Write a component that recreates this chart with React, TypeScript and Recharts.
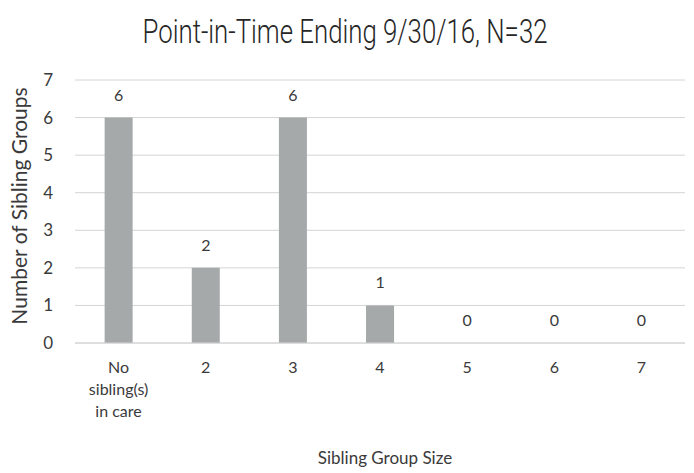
import { Bar, BarChart, CartesianGrid, LabelList, XAxis, YAxis } from 'recharts'

const categories = ['No sibling(s) in care', '2', '3', '4', '5', '6', '7']
const groupCounts = [6, 2, 6, 1, 0, 0, 0]
const yTicks = [0, 1, 2, 3, 4, 5, 6, 7]
const tickLines: Record<string, string[]> = { 'No sibling(s) in care': ['No', 'sibling(s)', 'in care'] }

const data = categories.map((name, i) => ({ name, value: groupCounts[i] }))

const FONT = 'Lato, "Open Sans", sans-serif'
const TEXT = '#3a3a3a'

function CategoryTick({ x, y, payload }: any) {
  const lines = tickLines[payload.value] ?? [payload.value]
  return (
    <text x={x} y={y} textAnchor="middle" fontFamily={FONT} fontSize={16} fill={TEXT}>
      {lines.map((line, i) => (
        <tspan key={i} x={x} dy={i === 0 ? 24 : 22}>
          {line}
        </tspan>
      ))}
    </text>
  )
}

export default function App() {
  return (
    <div style={{ width: 694, height: 473, background: '#fff', position: 'relative' }}>
      <style>{'body{margin:0}'}</style>
      <BarChart
        width={694}
        height={473}
        data={data}
        margin={{ top: 80, right: 9, bottom: 0, left: 40 }}
        barCategoryGap="34%"
      >
        <text
          x={345}
          y={43}
          textAnchor="middle"
          fontFamily='Roboto, "Liberation Sans", sans-serif'
          fontWeight={300}
          fontSize={33}
          fill="#262626"
          textLength={405}
          lengthAdjust="spacingAndGlyphs"
        >
          Point-in-Time Ending 9/30/16, N=32
        </text>
        <CartesianGrid vertical={false} stroke="#d4d4d4" />
        <XAxis
          dataKey="name"
          axisLine={{ stroke: '#d4d4d4' }}
          tickLine={false}
          tickMargin={0}
          height={130}
          interval={0}
          tick={<CategoryTick />}
        />
        <YAxis
          domain={[0, 7]}
          ticks={yTicks}
          width={35}
          axisLine={false}
          tickLine={false}
          tickMargin={16}
          tick={{ fontSize: 17, fill: TEXT, fontFamily: FONT }}
        />
        <text
          transform="translate(22 206) rotate(-90)"
          textAnchor="middle"
          dominantBaseline="middle"
          fontFamily={FONT}
          fontSize={21}
          fill={TEXT}
        >
          Number of Sibling Groups
        </text>
        <text x={385} y={464} textAnchor="middle" fontFamily={FONT} fontSize={17} fill={TEXT}>
          Sibling Group Size
        </text>
        <Bar dataKey="value" fill="#a5a9a9" minPointSize={0.01} isAnimationActive={false}>
          <LabelList dataKey="value" position="top" offset={17} fontSize={16} fill={TEXT} fontFamily={FONT} />
        </Bar>
      </BarChart>
    </div>
  )
}
